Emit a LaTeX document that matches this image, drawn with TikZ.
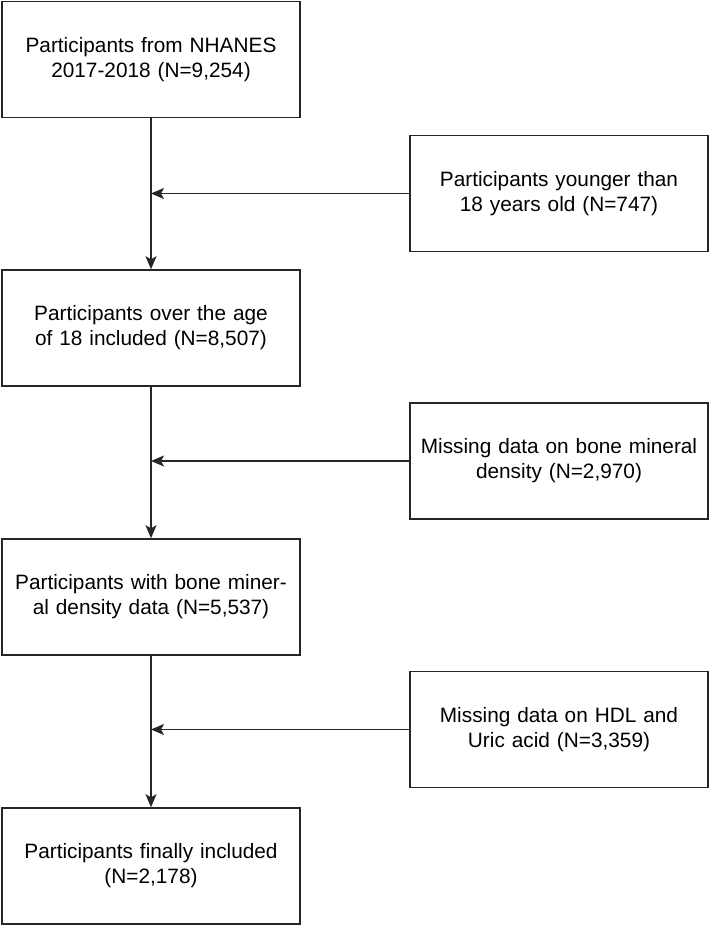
\documentclass[tikz,border=0pt]{standalone}
\usepackage{fontspec}
\setmainfont{Liberation Sans}
\usetikzlibrary{arrows.meta}
\begin{document}
\begin{tikzpicture}[x=1pt,y=-1pt,
  box/.style={draw=black!85, line width=1.5pt, minimum width=298pt, minimum height=116pt,
    inner sep=0pt, align=center, text width=290pt,
    font=\fontsize{20.8}{25}\selectfont},
  conn/.style={draw=black!85, line width=1.5pt},
  arr/.style={conn, -{Stealth[length=13pt, width=11pt, inset=3pt]}}]
\useasboundingbox (0,0) rectangle (710,926);
\fill[white] (0,0) rectangle (710,926);
\node[box] (b1) at (151,59.5) {Participants from NHANES\\2017-2018 (N=9,254)};
\node[box] (b2) at (151,328) {Participants over the age\\of 18 included (N=8,507)};
\node[box] (b3) at (151,597) {Participants with bone miner-\\al density data (N=5,537)};
\node[box] (b4) at (151,866) {Participants finally included\\(N=2,178)};
\node[box] (r1) at (559,193.5) {Participants younger than\\18 years old (N=747)};
\node[box] (r2) at (559,461) {Missing data on bone mineral\\density (N=2,970)};
\node[box] (r3) at (559,729.5) {Missing data on HDL and\\Uric acid (N=3,359)};
\draw[arr] (b1.south) -- (b2.north);
\draw[arr] (b2.south) -- (b3.north);
\draw[arr] (b3.south) -- (b4.north);
\draw[arr] (r1.west) -- (r1.west -| b1.south);
\draw[arr] (r2.west) -- (r2.west -| b2.south);
\draw[arr] (r3.west) -- (r3.west -| b3.south);
\end{tikzpicture}
\end{document}
